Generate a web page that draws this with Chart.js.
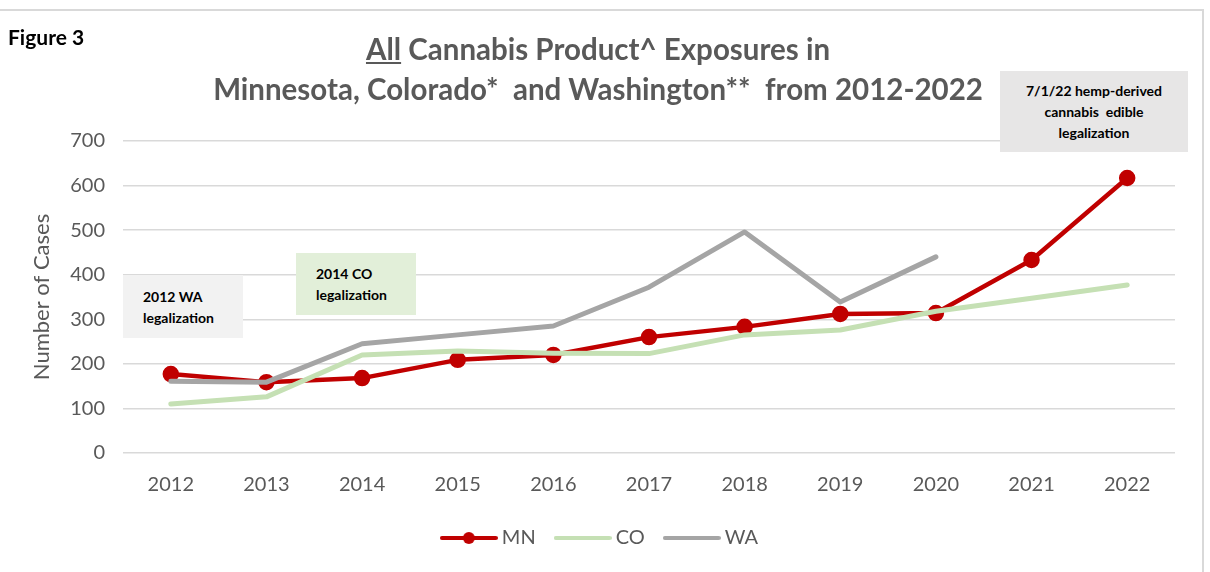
<!DOCTYPE html>
<html>
<head>
<meta charset="utf-8">
<script src="https://cdn.jsdelivr.net/npm/chart.js@4"></script>
<style>
  body { margin: 0; background: #fff; font-family: Lato, "Open Sans", sans-serif; }
  #wrap { position: relative; width: 1210px; height: 572px; overflow: hidden; }
  #frame { position: absolute; left: 0; top: 9px; width: 1202px; height: 580px;
           border-top: 2px solid #d9d9d9; border-right: 2px solid #d9d9d9; }
  canvas { position: absolute; left: 0; top: 0; }
  .fig { position: absolute; left: 8px; top: 24px; font-size: 21px; font-weight: bold; color: #000; }
  .title { position: absolute; left: 0; width: 1196px; text-align: center; color: #595959;
           font-size: 29.5px; font-weight: bold; }
  .note { position: absolute; font-size: 14px; font-weight: bold; color: #000; line-height: 21px; }
</style>
</head>
<body>
<div id="wrap">
  <div id="frame"></div>
  <canvas id="chart" width="1210" height="572"></canvas>
  <div class="fig">Figure 3</div>
  <div class="title" style="top:31px"><u>All</u> Cannabis Product^ Exposures in</div>
  <div class="title" style="top:71px">Minnesota, Colorado*&nbsp; and Washington**&nbsp; from 2012-2022</div>
  <div class="note" style="left:123px;top:275px;width:100px;height:52px;background:#f2f2f2;padding-left:20px;padding-top:11px">2012 WA<br>legalization</div>
  <div class="note" style="left:296px;top:253px;width:100px;height:52px;background:#e2efd9;padding-left:20px;padding-top:10px">2014 CO<br>legalization</div>
  <div class="note" style="left:1000px;top:71px;width:188px;height:72px;background:#e7e6e6;padding-top:9px;text-align:center">7/1/22 hemp-derived<br>cannabis&nbsp; edible<br>legalization</div>
</div>
<script>
// values
const years = ['2012', '2013', '2014', '2015', '2016', '2017', '2018', '2019', '2020', '2021', '2022'];
const mnCases = [177, 159, 168, 209, 220, 260, 283, 312, 314, 433, 617];
const coCases = [110, 126, 220, 229, 224, 223, 265, 276, 318, 347, 377];
const waCases = [161, 159, 245, 265, 285, 372, 496, 339, 440, null, null];

const grey = '#595959';

function legendIcon(color, dot) {
    const c = document.createElement('canvas');
    c.width = 58; c.height = 14;
    const g = c.getContext('2d');
    g.strokeStyle = color; g.lineWidth = 4; g.lineCap = 'round';
    g.beginPath(); g.moveTo(2, 7); g.lineTo(56, 7); g.stroke();
    if (dot) {
        g.fillStyle = color;
        g.beginPath(); g.arc(29, 7, 6, 0, Math.PI * 2); g.fill();
    }
    return c;
}
const icons = [legendIcon('#c00000', true), legendIcon('#c5e0b4', false), legendIcon('#a5a5a5', false)];

new Chart(document.getElementById('chart'), {
    type: 'line',
    data: {
        labels: years,
        datasets: [
            { label: 'MN', data: mnCases, borderColor: '#c00000', backgroundColor: '#c00000',
              borderWidth: 4.5, pointRadius: 6, pointHoverRadius: 6, order: 3 },
            { label: 'CO', data: coCases, borderColor: '#c5e0b4', backgroundColor: '#c5e0b4',
              borderWidth: 5, pointRadius: 0, order: 2 },
            { label: 'WA', data: waCases, borderColor: '#a5a5a5', backgroundColor: '#a5a5a5',
              borderWidth: 5, pointRadius: 0, order: 1 }
        ]
    },
    options: {
        responsive: false,
        animation: false,
        elements: { line: { borderJoinStyle: 'round', borderCapStyle: 'round' } },
        layout: { padding: { left: 29, right: 35, top: 141, bottom: 14 } },
        plugins: {
            title: { display: false },
            tooltip: { enabled: false },
            legend: {
                position: 'bottom',
                labels: {
                    usePointStyle: true,
                    pointStyleWidth: 46,
                    padding: 24,
                    color: grey,
                    font: { family: 'Lato', size: 20 },
                    sort: (a, b) => a.datasetIndex - b.datasetIndex,
                    generateLabels: chart => Chart.defaults.plugins.legend.labels.generateLabels(chart)
                        .map(it => ({ ...it, pointStyle: icons[it.datasetIndex] }))
                }
            }
        },
        scales: {
            x: {
                offset: true,
                grid: { display: false },
                border: { display: false },
                ticks: { color: grey, font: { family: 'Lato', size: 20 }, padding: 12 },
                afterFit: s => { s.height = 51; }
            },
            y: {
                min: 0, max: 700,
                ticks: { stepSize: 100, color: grey, font: { family: 'Lato', size: 20 }, padding: 18 },
                grid: { color: '#d9d9d9', lineWidth: 1.5, drawTicks: false },
                border: { display: false },
                title: { display: true, text: 'Number of Cases', color: grey,
                         font: { family: 'Lato', size: 22 }, padding: 0 },
                afterFit: s => { s.width = 94; }
            }
        }
    }
});
</script>
</body>
</html>
